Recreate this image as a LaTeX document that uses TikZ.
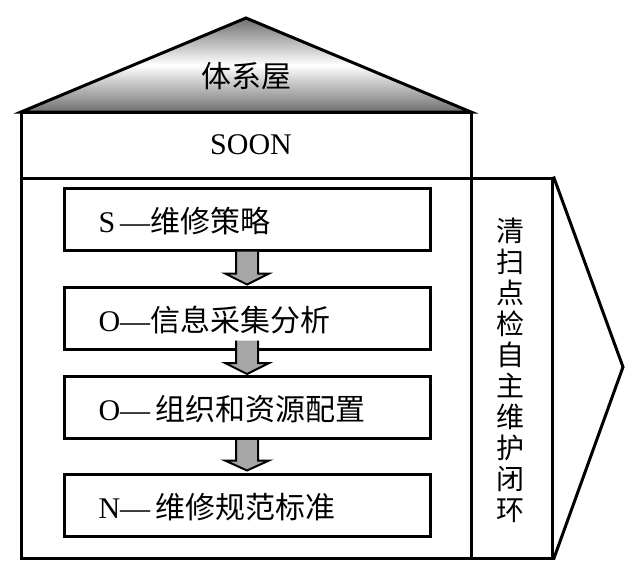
\documentclass[tikz,border=0pt]{standalone}
\usepackage{fontspec}
\setmainfont{Liberation Serif}
\newfontfamily\cjk{Noto Sans CJK SC}
\usetikzlibrary{calc}
\definecolor{arrowgray}{HTML}{A6A6A6}
\definecolor{roofgray}{HTML}{707070}
\begin{document}
\begin{tikzpicture}[x=1pt,y=-1pt,line width=3pt,line join=miter,
  bigtext/.style={inner sep=0pt,font=\fontsize{30}{36}\selectfont},
  stepbox/.style={draw,minimum width=366pt,minimum height=62pt,inner sep=0pt},
  steptext/.style={anchor=west,inner sep=0pt,font=\fontsize{30}{36}\selectfont},
  fatarrow/.style={draw,fill=arrowgray,line width=2pt}]
\useasboundingbox (0,0) rectangle (642,584);
% roof
\coordinate (rl) at (21,112);
\coordinate (rt) at (246,18);
\coordinate (rr) at (471,112);
\shade[top color=roofgray,bottom color=roofgray,middle color=white] (rl) -- (rt) -- (rr) -- cycle;
\draw (rl) -- (rt) -- (rr) -- cycle;
\node[bigtext] (roof) at (246,76) {\cjk 体系屋};
% SOON band
\node[draw,minimum width=450pt,minimum height=66pt,inner sep=0pt] (soon) at (246,145) {};
\node[bigtext] (soontext) at (251,145) {SOON};
% body and column
\node[draw,minimum width=450pt,minimum height=380pt,inner sep=0pt] (body) at (246,368) {};
\node[draw,minimum width=81pt,minimum height=380pt,inner sep=0pt] (col) at (511.5,368) {};
\coordinate (tip) at (623,367);
\draw (col.north east) -- (tip) -- (col.south east);
\node[inner sep=0pt,align=center,font=\cjk\fontsize{28}{31}\selectfont] (vt) at (510,370)
  {清\\扫\\点\\检\\自\\主\\维\\护\\闭\\环};
% step boxes
\node[stepbox] (s1) at (247,219) {};
\node[stepbox] (s2) at (247,318) {};
\node[stepbox] (s3) at (247,407.5) {};
\node[stepbox] (s4) at (247,505) {};
\node[steptext] (t1) at (97,221) {S\,—{\cjk 维修策略}};
\node[steptext] (t2) at (97,320) {O—{\cjk 信息采集分析}};
\node[steptext] (t3) at (97,409) {O—\,{\cjk 组织和资源配置}};
\node[steptext] (t4) at (97,507) {N—\,{\cjk 维修规范标准}};
% arrows
\draw[fatarrow] ($(s1.south)+(-11,0)$) -- ($(s2.north)+(-11,-12)$) -- ($(s2.north)+(-22,-12)$)
  -- ($(s2.north)+(0,-1)$) -- ($(s2.north)+(22,-12)$) -- ($(s2.north)+(11,-12)$) -- ($(s1.south)+(11,0)$);
\draw[fatarrow] ($(s2.south)+(-11,-10)$) -- ($(s3.north)+(-11,-12)$) -- ($(s3.north)+(-22,-12)$)
  -- ($(s3.north)+(0,-1)$) -- ($(s3.north)+(22,-12)$) -- ($(s3.north)+(11,-12)$) -- ($(s2.south)+(11,-10)$);
\draw[fatarrow] ($(s3.south)+(-11,0)$) -- ($(s4.north)+(-11,-12)$) -- ($(s4.north)+(-22,-12)$)
  -- ($(s4.north)+(0,-2)$) -- ($(s4.north)+(22,-12)$) -- ($(s4.north)+(11,-12)$) -- ($(s3.south)+(11,0)$);
\end{tikzpicture}
\end{document}
